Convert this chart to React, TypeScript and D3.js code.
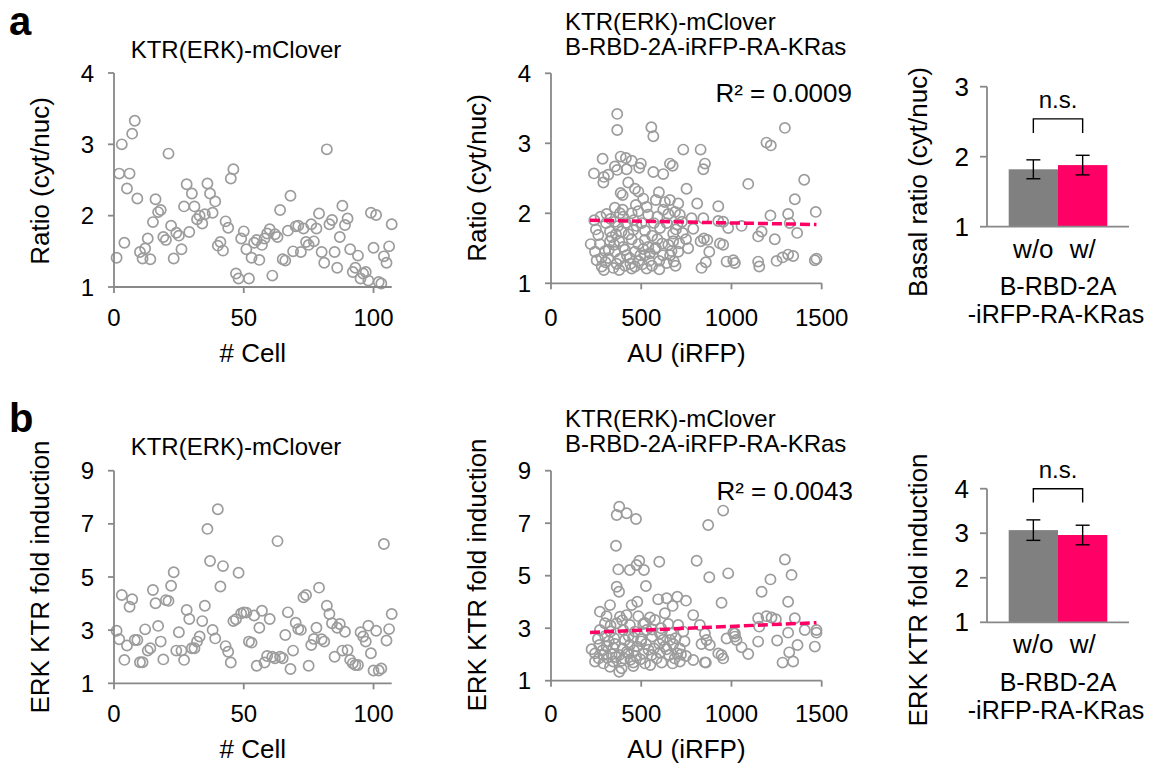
import React from "react";
import * as d3 from "d3";

const FONT = "'Liberation Sans', Arial, Helvetica, sans-serif";
const AXIS = "#888888";
const DOT = "#9c9c9c";
const PINK = "#ff0066";
const BAR_GRAY = "#808080";

// panel a, left: cyt/nuc ratio of each cell (x = cell number)
const ratioPerCell = [
  1.41, 2.59, 3.0, 1.62, 2.38, 2.59, 3.15, 3.33, 2.24, 1.49, 1.4, 1.54, 1.68, 1.39, 1.91, 2.23, 2.05, 2.08,
  1.7, 1.66, 2.87, 1.86, 1.4, 1.76, 1.72, 1.53, 2.13, 2.44, 1.77, 2.31, 2.13, 1.95, 2.0, 1.89, 2.02, 2.45,
  2.31, 2.04, 2.2, 1.58, 1.63, 1.51, 1.92, 1.83, 2.52, 2.65, 1.19, 1.12, 1.68, 1.78, 1.53, 1.12, 1.41, 1.62,
  1.66, 1.38, 1.59, 1.68, 1.75, 1.81, 1.16, 1.74, 1.7, 2.08, 1.39, 1.37, 1.79, 2.28, 1.5, 1.85, 1.86, 1.49,
  1.82, 1.63, 1.59, 1.88, 1.64, 1.82, 2.03, 1.49, 1.34, 2.93, 1.88, 1.94, 1.49, 1.27, 1.7, 2.14, 1.87, 1.96,
  1.53, 1.21, 1.27, 1.44, 1.12, 1.19, 1.21, 1.09, 2.04, 1.55, 2.01, 1.07, 1.05, 1.43, 1.34, 1.57, 1.88,
];

// panel b, left: ERK KTR fold induction of each cell
const foldPerCell = [
  2.98, 2.66, 4.32, 1.88, 2.42, 3.88, 4.16, 2.63, 2.63, 1.79, 1.79, 3.03, 2.23, 2.32, 4.51, 4.01, 3.16, 2.57,
  1.9, 4.13, 4.1, 4.67, 5.18, 2.23, 2.92, 2.23, 1.88, 3.76, 3.42, 2.32, 2.32, 2.57, 2.76, 3.34, 3.92, 6.81,
  5.6, 3.01, 2.69, 7.55, 4.64, 5.41, 2.4, 2.19, 1.78, 3.34, 3.41, 5.16, 3.63, 3.67, 3.66, 2.57, 2.53, 3.55,
  1.66, 3.09, 3.73, 1.78, 2.03, 3.42, 2.0, 1.94, 6.35, 2.0, 1.94, 2.82, 3.67, 1.54, 2.23, 3.28, 3.04, 3.01,
  4.24, 4.32, 1.66, 2.44, 2.67, 3.09, 4.6, 2.66, 2.57, 3.92, 3.61, 3.26, 2.0, 3.09, 3.23, 2.23, 2.94, 2.25,
  1.88, 1.75, 1.69, 1.69, 2.92, 2.76, 2.57, 3.17, 2.13, 1.48, 2.98, 1.48, 1.56, 6.24, 2.61, 3.04, 3.61,
];

// panel a, middle: [AU (iRFP), ratio]
const ratioVsAU: [number, number][] = [
  [367, 3.42], [367, 3.19], [556, 3.23], [567, 3.1], [733, 2.91], [829, 2.91], [853, 2.71], [844, 2.63],
  [286, 2.78], [238, 2.57], [293, 2.52], [317, 2.55], [290, 2.44], [354, 2.67], [367, 2.62], [386, 2.81],
  [415, 2.79], [447, 2.75], [498, 2.71], [489, 2.65], [567, 2.59], [622, 2.56], [659, 2.71], [674, 2.68],
  [419, 2.63], [428, 2.44], [386, 2.29], [397, 2.26], [465, 2.35], [484, 2.31], [511, 2.21], [598, 2.3],
  [751, 2.35], [581, 2.19], [631, 2.16], [659, 2.19], [705, 2.14], [810, 2.14], [354, 2.08], [397, 2.05],
  [484, 2.03], [622, 2.05], [687, 2.02], [308, 1.99], [382, 2.0], [447, 2.0], [539, 1.98], [650, 1.99],
  [714, 1.98], [779, 1.93], [844, 1.93], [249, 1.77], [305, 1.86], [354, 1.88], [415, 1.86], [502, 1.86],
  [570, 1.86], [641, 1.86], [700, 1.84], [788, 1.78], [327, 1.74], [391, 1.74], [456, 1.76], [521, 1.75],
  [604, 1.79], [677, 1.71], [847, 1.64], [220, 1.56], [271, 1.56], [327, 1.6], [378, 1.6], [447, 1.63],
  [484, 1.56], [539, 1.52], [581, 1.51], [677, 1.6], [711, 1.57], [748, 1.63], [829, 1.6], [244, 1.45],
  [299, 1.46], [354, 1.45], [410, 1.48], [465, 1.45], [511, 1.49], [576, 1.49], [668, 1.46], [705, 1.45],
  [253, 1.33], [318, 1.36], [382, 1.35], [437, 1.36], [484, 1.32], [545, 1.32], [600, 1.32], [681, 1.31],
  [281, 1.24], [345, 1.22], [410, 1.25], [465, 1.24], [530, 1.21], [293, 1.19], [378, 1.19], [447, 1.21],
  [834, 1.22], [364, 1.28], [262, 1.69], [336, 1.66], [400, 1.52], [430, 1.7], [474, 1.82], [520, 1.62],
  [560, 1.68], [616, 1.57], [660, 1.4], [692, 1.77], [302, 1.3], [350, 1.55], [420, 1.4], [458, 1.9],
  [495, 1.4], [548, 1.43], [590, 1.63], [620, 1.4], [690, 1.25], [730, 1.72], [240, 1.9], [275, 1.95],
  [330, 1.92], [372, 1.82], [440, 1.28], [505, 1.27], [560, 1.25], [640, 1.29], [726, 1.88], [760, 1.5],
  [400, 1.95], [470, 2.12], [530, 2.09], [590, 1.95], [280, 1.36], [320, 1.48], [360, 1.7], [520, 1.4],
  [600, 1.2], [650, 1.55], [1296, 3.22], [1194, 3.01], [1218, 2.97], [1093, 2.42], [1403, 2.48],
  [1351, 2.2], [927, 2.1], [1467, 2.02], [1216, 1.97], [1314, 1.99], [927, 1.89], [954, 1.88], [982, 1.79],
  [1056, 1.82], [1323, 1.86], [1167, 1.74], [1148, 1.67], [1240, 1.63], [1364, 1.72], [866, 1.62],
  [936, 1.57], [954, 1.55], [877, 1.45], [973, 1.31], [1010, 1.33], [1019, 1.29], [1148, 1.31], [1154, 1.24],
  [1250, 1.32], [1283, 1.37], [1314, 1.41], [1342, 1.39], [1462, 1.33], [1471, 1.35], [858, 1.3],
];

// panel b, middle: [AU (iRFP), fold induction]
const foldVsAU: [number, number][] = [
  [378, 7.63], [364, 7.31], [419, 7.38], [471, 7.16], [360, 6.14], [489, 5.57], [474, 5.41], [600, 5.53],
  [373, 5.24], [437, 5.22], [515, 5.22], [807, 5.57], [364, 4.58], [377, 4.39], [526, 4.61], [327, 3.88],
  [271, 3.63], [447, 3.88], [478, 4.01], [594, 4.1], [641, 4.14], [700, 4.2], [748, 4.05], [674, 3.85],
  [631, 3.57], [308, 3.46], [382, 3.44], [419, 3.5], [484, 3.46], [548, 3.41], [576, 3.31], [788, 3.5],
  [299, 3.19], [364, 3.19], [437, 3.12], [511, 3.16], [650, 3.16], [705, 3.12], [825, 3.12], [271, 2.93],
  [330, 2.87], [400, 2.93], [465, 2.87], [530, 2.93], [604, 2.8], [668, 2.8], [733, 2.87], [853, 2.8],
  [225, 2.2], [268, 2.36], [308, 2.3], [354, 2.4], [397, 2.23], [437, 2.36], [478, 2.3], [526, 2.4],
  [570, 2.23], [631, 2.3], [677, 2.4], [714, 2.23], [834, 2.4], [244, 2.04], [290, 1.98], [336, 2.01],
  [378, 1.98], [428, 2.04], [471, 1.94], [511, 2.04], [558, 1.98], [604, 2.07], [655, 1.98], [700, 2.04],
  [748, 1.94], [244, 1.73], [290, 1.66], [345, 1.73], [391, 1.76], [456, 1.69], [521, 1.66], [613, 1.69],
  [674, 1.66], [714, 1.73], [788, 1.79], [853, 1.7], [378, 1.34], [391, 1.47], [327, 1.53], [456, 1.56],
  [260, 2.6], [300, 2.7], [350, 2.62], [410, 2.55], [455, 2.65], [500, 2.58], [560, 2.68], [620, 2.55],
  [690, 2.62], [740, 2.5], [285, 2.15], [320, 2.5], [345, 2.25], [420, 2.1], [460, 2.15], [495, 1.82],
  [540, 2.18], [585, 1.85], [640, 2.2], [685, 1.85], [265, 1.85], [310, 1.88], [360, 1.9], [405, 1.85],
  [440, 1.8], [500, 2.5], [550, 1.6], [600, 2.4], [660, 2.55], [720, 2.0], [330, 3.1], [395, 3.3],
  [430, 2.7], [520, 3.2], [560, 2.95], [610, 3.0], [954, 7.48], [871, 6.93], [1296, 5.62], [982, 5.09],
  [877, 4.94], [1216, 4.86], [1333, 5.03], [1167, 4.39], [945, 3.97], [1314, 4.01], [1148, 3.38],
  [1194, 3.46], [1222, 3.41], [1246, 3.34], [1351, 3.38], [1154, 3.06], [1406, 2.93], [1471, 2.93],
  [1471, 2.83], [1010, 2.83], [1314, 2.83], [973, 2.61], [1019, 2.68], [1148, 2.49], [1253, 2.53],
  [880, 2.36], [1056, 2.27], [1366, 2.36], [1462, 2.3], [927, 2.04], [954, 1.85], [1093, 2.02], [1320, 2.08],
  [1283, 1.69], [1342, 1.73], [858, 1.69], [862, 2.55], [945, 1.98], [1028, 2.55], [1019, 2.8],
];

// linear trend lines (endpoints)
const trendAU = [216, 1471];
const trendRatio = [1.9, 1.84];
const trendFold = [2.84, 3.21];
const r2Text = ["R² = 0.0009", "R² = 0.0043"];

// bar panels
const groups = ["w/o", "w/"];
const basalMean = [1.82, 1.88];
const basalErr = [0.135, 0.14];
const foldMean = [3.07, 2.96];
const foldErr = [0.23, 0.22];
const barColors = [BAR_GRAY, PINK];

const cellTicks = [0, 50, 100];
const auTicks = [0, 500, 1000, 1500];
const ratioTicks = [1, 2, 3, 4];
const foldTicks = [1, 3, 5, 7, 9];

type ScatterProps = {
  pts: [number, number][];
  xDomain: [number, number];
  xRange: [number, number];
  yDomain: [number, number];
  yRange: [number, number];
  xTicks: number[];
  yTicks: number[];
  tickLabelY: number;
  xLabel: string;
  xLabelY: number;
  yLabel: string;
  yLabelX: number;
  yLabelY: number;
  trendY?: number[];
  r2?: string;
  r2Pos?: [number, number];
};

function Scatter(p: ScatterProps) {
  const x = d3.scaleLinear().domain(p.xDomain).range(p.xRange);
  const y = d3.scaleLinear().domain(p.yDomain).range(p.yRange);
  const [x0, x1] = p.xRange;
  const [yb, yt] = p.yRange;
  const trend =
    p.trendY &&
    d3
      .line<number>()
      .x((d) => x(d))
      .y((d, i) => y(p.trendY![i]))(trendAU);

  return (
    <g>
      {p.pts.map((d, i) => (
        <circle key={i} cx={x(d[0])} cy={y(d[1])} r={5.1} fill="none" stroke={DOT} strokeWidth={1.7} />
      ))}
      {trend && <path d={trend} fill="none" stroke={PINK} strokeWidth={3.5} strokeDasharray="10,4" />}
      <line x1={x0} x2={x0} y1={yt} y2={yb} stroke={AXIS} strokeWidth={1.8} />
      <line x1={x0} x2={x1} y1={yb} y2={yb} stroke={AXIS} strokeWidth={1.8} />
      {p.yTicks.map((t) => (
        <g key={"y" + t}>
          <line x1={x0 - 6} x2={x0} y1={y(t)} y2={y(t)} stroke={AXIS} strokeWidth={1.8} />
          <text x={x0 - 20} y={y(t) + 8.5} textAnchor="end" fontSize={24}>
            {t}
          </text>
        </g>
      ))}
      {p.xTicks.map((t) => (
        <g key={"x" + t}>
          <line x1={x(t)} x2={x(t)} y1={yb} y2={yb + 6} stroke={AXIS} strokeWidth={1.8} />
          <text x={x(t)} y={p.tickLabelY} textAnchor="middle" fontSize={24}>
            {t}
          </text>
        </g>
      ))}
      <text x={(x0 + x1) / 2} y={p.xLabelY} textAnchor="middle" fontSize={26}>
        {p.xLabel}
      </text>
      <text
        transform={`translate(${p.yLabelX},${p.yLabelY}) rotate(-90)`}
        textAnchor="middle"
        fontSize={26}
      >
        {p.yLabel}
      </text>
      {p.r2 && p.r2Pos && (
        <text x={p.r2Pos[0]} y={p.r2Pos[1]} textAnchor="end" fontSize={26}>
          {p.r2}
        </text>
      )}
    </g>
  );
}

type BarProps = {
  means: number[];
  errs: number[];
  yDomain: [number, number];
  yRange: [number, number];
  yTicks: number[];
  bracket: [number, number];
  yLabel: string;
  yLabelY: number;
  groupLabelY: number;
  construct1Y: number;
  construct2Y: number;
};

function Bars(p: BarProps) {
  const x = d3.scaleBand<string>().domain(groups).range([987, 1129]).paddingInner(0).paddingOuter(0.44);
  const y = d3.scaleLinear().domain(p.yDomain).range(p.yRange);
  const [yb, yt] = p.yRange;
  const bw = x.bandwidth();
  const cx = (g: string) => x(g)! + bw / 2;
  const bx0 = cx(groups[0]);
  const bx1 = cx(groups[1]);
  return (
    <g>
      {groups.map((g, i) => (
        <rect key={g} x={x(g)} y={y(p.means[i])} width={bw} height={yb - y(p.means[i])} fill={barColors[i]} />
      ))}
      {groups.map((g, i) => {
        const hi = y(p.means[i] + p.errs[i]);
        const lo = y(p.means[i] - p.errs[i]);
        return (
          <g key={"e" + g} stroke="#000" strokeWidth={1.4}>
            <line x1={cx(g)} x2={cx(g)} y1={hi} y2={lo} />
            <line x1={cx(g) - 7} x2={cx(g) + 7} y1={hi} y2={hi} />
            <line x1={cx(g) - 7} x2={cx(g) + 7} y1={lo} y2={lo} />
          </g>
        );
      })}
      <line x1={987} x2={987} y1={yt} y2={yb} stroke={AXIS} strokeWidth={1.8} />
      <line x1={987} x2={1129} y1={yb} y2={yb} stroke={AXIS} strokeWidth={1.8} />
      {p.yTicks.map((t) => (
        <g key={t}>
          <line x1={980} x2={987} y1={y(t)} y2={y(t)} stroke={AXIS} strokeWidth={1.8} />
          <text x={969} y={y(t) + 9} textAnchor="end" fontSize={26}>
            {t}
          </text>
        </g>
      ))}
      <path
        d={`M${bx0},${y(p.bracket[1])}V${y(p.bracket[0])}H${bx1}V${y(p.bracket[1])}`}
        fill="none"
        stroke="#000"
        strokeWidth={1.4}
      />
      <text x={(bx0 + bx1) / 2} y={y(p.bracket[0]) - 11} textAnchor="middle" fontSize={24}>
        n.s.
      </text>
      {groups.map((g) => (
        <text key={"l" + g} x={cx(g)} y={p.groupLabelY} textAnchor="middle" fontSize={26}>
          {g}
        </text>
      ))}
      <text x={1058} y={p.construct1Y} textAnchor="middle" fontSize={25}>
        B-RBD-2A
      </text>
      <text x={1056} y={p.construct2Y} textAnchor="middle" fontSize={25}>
        -iRFP-RA-KRas
      </text>
      <text transform={`translate(927,${p.yLabelY}) rotate(-90)`} textAnchor="middle" fontSize={26}>
        {p.yLabel}
      </text>
    </g>
  );
}

export default function App() {
  const cellPts = (vals: number[]): [number, number][] => vals.map((v, i) => [i + 1, v]);
  return (
    <svg
      width={1155}
      height={764}
      style={{ position: "absolute", left: 0, top: 0, background: "#fff" }}
      fontFamily={FONT}
      fill="#000"
    >
      <text x={9} y={35} fontSize={40} fontWeight="bold">
        a
      </text>
      <text x={9} y={432} fontSize={40} fontWeight="bold">
        b
      </text>

      {/* row a */}
      <text x={236} y={58} textAnchor="middle" fontSize={24}>
        KTR(ERK)-mClover
      </text>
      <Scatter
        pts={cellPts(ratioPerCell)}
        xDomain={[0, 107]}
        xRange={[114, 391.7]}
        yDomain={[1, 4]}
        yRange={[287, 73]}
        xTicks={cellTicks}
        yTicks={ratioTicks}
        tickLabelY={326}
        xLabel="# Cell"
        xLabelY={362}
        yLabel="Ratio (cyt/nuc)"
        yLabelX={49}
        yLabelY={181}
      />
      <text x={565} y={30} fontSize={24}>
        KTR(ERK)-mClover
      </text>
      <text x={565} y={55} fontSize={24}>
        B-RBD-2A-iRFP-RA-KRas
      </text>
      <Scatter
        pts={ratioVsAU}
        xDomain={[0, 1500]}
        xRange={[551, 821.7]}
        yDomain={[1, 4]}
        yRange={[283.3, 73.3]}
        xTicks={auTicks}
        yTicks={ratioTicks}
        tickLabelY={326}
        xLabel="AU (iRFP)"
        xLabelY={362}
        yLabel="Ratio (cyt/nuc)"
        yLabelX={486}
        yLabelY={178}
        trendY={trendRatio}
        r2={r2Text[0]}
        r2Pos={[852, 102]}
      />
      <Bars
        means={basalMean}
        errs={basalErr}
        yDomain={[1, 3]}
        yRange={[226.7, 86.7]}
        yTicks={[1, 2, 3]}
        bracket={[2.54, 2.34]}
        yLabel="Basal ratio (cyt/nuc)"
        yLabelY={182}
        groupLabelY={258}
        construct1Y={295}
        construct2Y={323}
      />

      {/* row b */}
      <text x={236} y={455} textAnchor="middle" fontSize={24}>
        KTR(ERK)-mClover
      </text>
      <Scatter
        pts={cellPts(foldPerCell)}
        xDomain={[0, 107]}
        xRange={[114, 391.7]}
        yDomain={[1, 9]}
        yRange={[683.3, 470.7]}
        xTicks={cellTicks}
        yTicks={foldTicks}
        tickLabelY={722}
        xLabel="# Cell"
        xLabelY={758}
        yLabel="ERK KTR fold induction"
        yLabelX={49}
        yLabelY={577}
      />
      <text x={565} y={427} fontSize={24}>
        KTR(ERK)-mClover
      </text>
      <text x={565} y={452} fontSize={24}>
        B-RBD-2A-iRFP-RA-KRas
      </text>
      <Scatter
        pts={foldVsAU}
        xDomain={[0, 1500]}
        xRange={[551, 821.7]}
        yDomain={[1, 9]}
        yRange={[680.7, 470.7]}
        xTicks={auTicks}
        yTicks={foldTicks}
        tickLabelY={722}
        xLabel="AU (iRFP)"
        xLabelY={758}
        yLabel="ERK KTR fold induction"
        yLabelX={486}
        yLabelY={575}
        trendY={trendFold}
        r2={r2Text[1]}
        r2Pos={[853, 500]}
      />
      <Bars
        means={foldMean}
        errs={foldErr}
        yDomain={[1, 4]}
        yRange={[622.3, 488.7]}
        yTicks={[1, 2, 3, 4]}
        bracket={[4.0, 3.69]}
        yLabel="ERK KTR fold induction"
        yLabelY={590}
        groupLabelY={653}
        construct1Y={691}
        construct2Y={719}
      />
    </svg>
  );
}
